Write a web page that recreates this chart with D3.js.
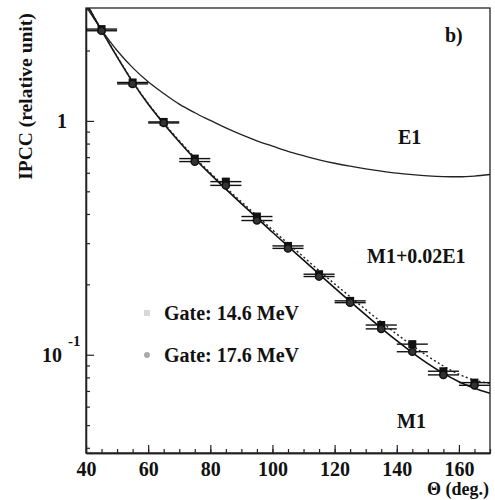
<!DOCTYPE html>
<html><head><meta charset="utf-8">
<script src="https://cdn.jsdelivr.net/npm/d3@7"></script>
<style>
body{margin:0;background:#fff;}
text{font-family:"Liberation Serif","Times New Roman",serif;font-weight:bold;fill:#111;}
</style></head>
<body>
<svg id="c" width="495" height="500"></svg>
<script>
// ---- data ----
const angles = [45,55,65,75,85,95,105,115,125,135,145,155,165];
const gate146 = [2.47,1.46,0.99,0.69,0.55,0.39,0.292,0.221,0.170,0.134,0.111,0.085,0.076];
const gate176 = [2.43,1.44,0.98,0.67,0.53,0.375,0.285,0.216,0.167,0.129,0.103,0.082,0.074];
const angleErr = 5;

const curveAngles = [40,45,50,55,60,65,70,75,80,85,90,95,100,105,110,115,120,125,130,135,140,145,150,155,160,165,170];
const e1Curve  = [3.09,2.45,2.0,1.69,1.47,1.31,1.18,1.084,1.005,0.933,0.873,0.822,0.780,0.741,0.710,0.682,0.659,0.640,0.624,0.610,0.598,0.589,0.582,0.578,0.577,0.581,0.590];
const m1Curve  = [3.20,2.44,1.88,1.469,1.180,0.973,0.815,0.689,0.592,0.511,0.443,0.385,0.334,0.291,0.254,0.221,0.193,0.169,0.148,0.130,0.1148,0.1021,0.0916,0.0832,0.0767,0.0719,0.0684];
const mixCurve = [3.21,2.45,1.89,1.478,1.188,0.981,0.823,0.697,0.600,0.519,0.451,0.393,0.342,0.299,0.262,0.229,0.201,0.177,0.156,0.138,0.1225,0.1095,0.0985,0.0895,0.0825,0.0778,0.0755];

const xMajor = [40,60,80,100,120,140,160];
const xMinor = [40,45,50,55,60,65,70,75,80,85,90,95,100,105,110,115,120,125,130,135,140,145,150,155,160,165,170];
const yMajor = [1,0.1];
const yMinor = [0.04,0.05,0.06,0.07,0.08,0.09,0.2,0.3,0.4,0.5,0.6,0.7,0.8,0.9,2,3];

const legendLabels = ["Gate: 14.6 MeV","Gate: 17.6 MeV"];

// ---- layout ----
const L=86, R=490, T=8, B=453;
const svg = d3.select("#c");
const x = d3.scaleLinear().domain([40,170]).range([L,R]);
const y = d3.scaleLog().domain([0.038,3.04]).range([B,T]);

svg.append("defs").append("clipPath").attr("id","clip")
  .append("rect").attr("x",L).attr("y",T).attr("width",R-L).attr("height",B-T);

// frame
svg.append("rect").attr("x",L).attr("y",T).attr("width",R-L).attr("height",B-T)
  .attr("fill","none").attr("stroke","#222").attr("stroke-width",1.3);

// x axis
const gxMinor = svg.append("g").attr("transform",`translate(0,${B})`)
  .call(d3.axisBottom(x).tickValues(xMinor).tickSizeInner(-4).tickSizeOuter(0).tickFormat(""));
const gx = svg.append("g").attr("transform",`translate(0,${B})`)
  .call(d3.axisBottom(x).tickValues(xMajor).tickSizeInner(-8).tickSizeOuter(0).tickPadding(9).tickFormat(d3.format("d")));
[gxMinor,gx].forEach(g=>{g.select(".domain").attr("stroke","#222").attr("stroke-width",1.3);g.selectAll(".tick line").attr("stroke","#222").attr("stroke-width",1.2);});
gx.selectAll(".tick text").style("font-size","20px").style("font-family","Liberation Serif").style("font-weight","bold").attr("fill","#111");

// y axis
const gyMinor = svg.append("g").attr("transform",`translate(${L},0)`)
  .call(d3.axisLeft(y).tickValues(yMinor).tickSizeInner(-4).tickSizeOuter(0).tickFormat(""));
const gy = svg.append("g").attr("transform",`translate(${L},0)`)
  .call(d3.axisLeft(y).tickValues(yMajor).tickSizeInner(-8).tickSizeOuter(0).tickFormat(""));
[gyMinor,gy].forEach(g=>{g.select(".domain").attr("stroke","#222").attr("stroke-width",1.3);g.selectAll(".tick line").attr("stroke","#222").attr("stroke-width",1.2);});

// y tick labels
svg.append("text").attr("x",67).attr("y",y(1)+7).attr("text-anchor","end").style("font-size","20px").text("1");
svg.append("text").attr("x",62).attr("y",y(0.1)+7).attr("text-anchor","end").style("font-size","20px").text("10");
svg.append("text").attr("x",68).attr("y",y(0.1)-9).attr("text-anchor","start").style("font-size","15px").text("-1");

// axis titles
svg.append("text").attr("transform",`translate(32,${(10+183)/2}) rotate(-90)`).attr("text-anchor","middle")
  .style("font-size","19.5px").text("IPCC (relative unit)");
svg.append("text").attr("x",489).attr("y",495).attr("text-anchor","end").style("font-size","18px").text("Θ (deg.)");

// curves
const line = d3.line().x(d=>x(d[0])).y(d=>y(d[1])).curve(d3.curveMonotoneX);
const plot = svg.append("g").attr("clip-path","url(#clip)");
plot.append("path").datum(curveAngles.map((a,i)=>[a,e1Curve[i]])).attr("d",line)
  .attr("fill","none").attr("stroke","#222").attr("stroke-width",1.3);
plot.append("path").datum(curveAngles.map((a,i)=>[a,m1Curve[i]])).attr("d",line)
  .attr("fill","none").attr("stroke","#111").attr("stroke-width",1.6);
plot.append("path").datum(curveAngles.map((a,i)=>[a,mixCurve[i]])).attr("d",line)
  .attr("fill","none").attr("stroke","#222").attr("stroke-width",1.4).attr("stroke-dasharray","2,2.5");

// data points with horizontal error bars
const series = [
  {vals:gate146, shape:"square"},
  {vals:gate176, shape:"circle"}
];
series.forEach(s=>{
  const g = plot.append("g");
  angles.forEach((a,i)=>{
    const v = s.vals[i];
    g.append("line").attr("x1",x(a-angleErr)).attr("x2",x(a+angleErr))
      .attr("y1",y(v)).attr("y2",y(v)).attr("stroke","#111").attr("stroke-width",1.4);
    if(s.shape==="square"){
      g.append("rect").attr("x",x(a)-4).attr("y",y(v)-4).attr("width",8).attr("height",8).attr("fill","#111");
    } else {
      g.append("circle").attr("cx",x(a)).attr("cy",y(v)).attr("r",3.6).attr("fill","#333").attr("stroke","#111").attr("stroke-width",1.5);
    }
  });
});

// legend
svg.append("rect").attr("x",144).attr("y",310).attr("width",6).attr("height",6).attr("fill","#d8d8d8");
svg.append("circle").attr("cx",147).attr("cy",355).attr("r",3).attr("fill","#aaa");
svg.append("text").attr("x",164).attr("y",320).style("font-size","20px").text(legendLabels[0]);
svg.append("text").attr("x",164).attr("y",362).style("font-size","20px").text(legendLabels[1]);

// annotations
svg.append("text").attr("x",445).attr("y",42).style("font-size","20px").text("b)");
svg.append("text").attr("x",398).attr("y",144).style("font-size","20px").text("E1");
svg.append("text").attr("x",367).attr("y",263).style("font-size","20px").text("M1+0.02E1");
svg.append("text").attr("x",397).attr("y",428).style("font-size","20px").text("M1");
</script>
</body></html>
